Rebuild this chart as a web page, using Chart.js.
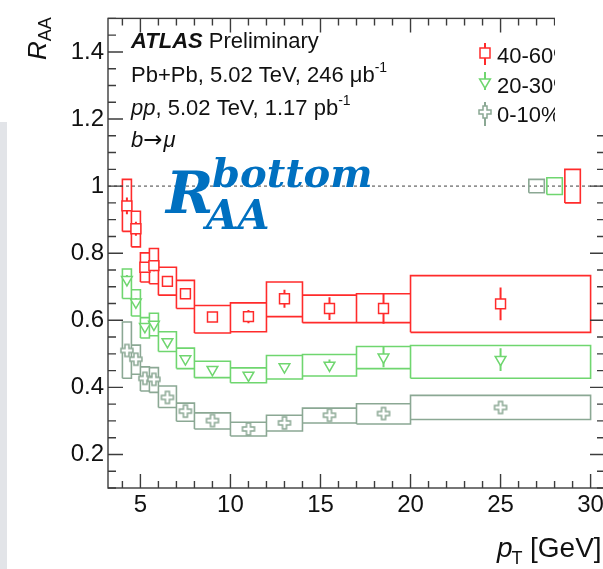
<!DOCTYPE html>
<html>
<head>
<meta charset="utf-8">
<script src="https://cdn.jsdelivr.net/npm/chart.js@4.4.1/dist/chart.umd.min.js"></script>
<style>
  html, body { margin: 0; padding: 0; overflow: hidden; background: #fff; width: 603px; height: 569px; }
  #wrap { position: relative; width: 620px; height: 569px; }
  canvas { position: absolute; left: 0; top: 0; }
</style>
</head>
<body>
<div id="wrap"><canvas id="c" width="620" height="569"></canvas></div>
<script>
// b -> mu nuclear modification factor vs muon pT, three centrality classes
const CENTRALITY = ['40-60%', '20-30%', '0-10%'];
const BIN_LO = [4.0, 4.5, 5.0, 5.5, 6.0, 7.0, 8.0, 10.0, 12.0, 14.0, 17.0, 20.0];
const BIN_HI = [4.5, 5.0, 5.5, 6.0, 7.0, 8.0, 10.0, 12.0, 14.0, 17.0, 20.0, 30.0];
const PT     = [4.25, 4.75, 5.25, 5.75, 6.5, 7.5, 9.0, 11.0, 13.0, 15.5, 18.5, 25.0];

const RAA_40_60    = [0.941, 0.873, 0.758, 0.763, 0.716, 0.679, 0.610, 0.611, 0.664, 0.635, 0.635, 0.649];
const STAT_40_60   = [0.025, 0.021, 0.015, 0.017, 0.010, 0.010, 0.008, 0.020, 0.027, 0.034, 0.045, 0.049];
const SYS_UP_40_60 = [1.020, 0.925, 0.801, 0.814, 0.758, 0.719, 0.644, 0.652, 0.714, 0.675, 0.679, 0.733];
const SYS_DN_40_60 = [0.865, 0.819, 0.714, 0.709, 0.675, 0.635, 0.562, 0.566, 0.611, 0.593, 0.593, 0.564];

const RAA_20_30    = [0.721, 0.654, 0.581, 0.588, 0.536, 0.485, 0.453, 0.436, 0.461, 0.466, 0.490, 0.483];
const STAT_20_30   = [0.014, 0.012, 0.010, 0.010, 0.008, 0.008, 0.007, 0.008, 0.012, 0.017, 0.030, 0.034];
const SYS_UP_20_30 = [0.753, 0.691, 0.608, 0.621, 0.566, 0.517, 0.478, 0.458, 0.495, 0.498, 0.522, 0.525];
const SYS_DN_20_30 = [0.665, 0.613, 0.547, 0.554, 0.507, 0.456, 0.429, 0.414, 0.425, 0.434, 0.456, 0.427];

const RAA_0_10     = [0.510, 0.484, 0.427, 0.424, 0.370, 0.329, 0.301, 0.276, 0.294, 0.317, 0.322, 0.340];
const STAT_0_10    = [0.010, 0.009, 0.008, 0.008, 0.007, 0.007, 0.006, 0.007, 0.008, 0.010, 0.013, 0.016];
const SYS_UP_0_10  = [0.595, 0.526, 0.461, 0.459, 0.404, 0.353, 0.324, 0.296, 0.317, 0.338, 0.351, 0.376];
const SYS_DN_0_10  = [0.427, 0.439, 0.389, 0.385, 0.340, 0.299, 0.276, 0.255, 0.270, 0.294, 0.291, 0.304];

// normalisation uncertainty boxes drawn at R_AA = 1 (order: 0-10%, 20-30%, 40-60%)
const NORM_X    = [27.0, 28.0, 29.0];
const NORM_UNC  = [0.020, 0.025, 0.050];
const NORM_HALF = 0.43;

const X_TICKS = [5, 10, 15, 20, 25, 30];
const X_TICK_LABELS = ['5', '10', '15', '20', '25', '30'];
const Y_TICKS = [0.2, 0.4, 0.6, 0.8, 1.0, 1.2, 1.4];
const Y_TICK_LABELS = ['0.2', '0.4', '0.6', '0.8', '1', '1.2', '1.4'];

const X_MIN = 3.2, X_MAX = 30.8, Y_MIN = 0.1, Y_MAX = 1.5;

const COL_RED = '#ff2b2b';
const COL_GREEN = '#6fd66f';
const COL_GREY = '#8ba894';
const FONT = '"Liberation Sans", Arial, Helvetica, sans-serif';

// open cross marker
function openCross(color, s) {
  const c = document.createElement('canvas');
  c.width = s + 4; c.height = s + 4;
  const g = c.getContext('2d');
  const o = 2, h = s / 2, a = s / 6;
  const cx = o + h, cy = o + h;
  g.beginPath();
  g.moveTo(cx - a, cy - h); g.lineTo(cx + a, cy - h); g.lineTo(cx + a, cy - a);
  g.lineTo(cx + h, cy - a); g.lineTo(cx + h, cy + a); g.lineTo(cx + a, cy + a);
  g.lineTo(cx + a, cy + h); g.lineTo(cx - a, cy + h); g.lineTo(cx - a, cy + a);
  g.lineTo(cx - h, cy + a); g.lineTo(cx - h, cy - a); g.lineTo(cx - a, cy - a);
  g.closePath();
  g.fillStyle = '#fff'; g.fill();
  g.strokeStyle = color; g.lineWidth = 1.5; g.stroke();
  return c;
}
const CROSS_IMG = openCross(COL_GREY, 12);

function boxes(lo, hi, dn, up) {
  const pts = [];
  for (let i = 0; i < lo.length; i++) {
    pts.push({x: lo[i], y: dn[i]}, {x: lo[i], y: up[i]}, {x: hi[i], y: up[i]},
             {x: hi[i], y: dn[i]}, {x: lo[i], y: dn[i]}, {x: null, y: null});
  }
  return pts;
}
function errBars(x, y, e) {
  const pts = [];
  for (let i = 0; i < x.length; i++) {
    pts.push({x: x[i], y: y[i] - e[i]}, {x: x[i], y: y[i] + e[i]}, {x: null, y: null});
  }
  return pts;
}
function points(x, y) { return x.map((v, i) => ({x: v, y: y[i]})); }

const SERIES = [
  {label: CENTRALITY[0], color: COL_RED,   y: RAA_40_60, stat: STAT_40_60, up: SYS_UP_40_60, dn: SYS_DN_40_60, style: 'rect',     radius: 7,   rot: 0,   norm: 2},
  {label: CENTRALITY[1], color: COL_GREEN, y: RAA_20_30, stat: STAT_20_30, up: SYS_UP_20_30, dn: SYS_DN_20_30, style: 'triangle', radius: 6.2, rot: 180, norm: 1},
  {label: CENTRALITY[2], color: COL_GREY,  y: RAA_0_10,  stat: STAT_0_10,  up: SYS_UP_0_10,  dn: SYS_DN_0_10,  style: CROSS_IMG,  radius: 6,   rot: 0,   norm: 0}
];

const datasets = [];
SERIES.forEach(s => {
  datasets.push({
    label: s.label, data: points(PT, s.y), showLine: false,
    pointStyle: s.style, rotation: s.rot, pointRadius: s.radius,
    borderColor: s.color, backgroundColor: '#ffffff', borderWidth: 1.5, order: 0
  });
  datasets.push({
    data: errBars(PT, s.y, s.stat), showLine: true, spanGaps: false, pointRadius: 0,
    borderColor: s.color, borderWidth: 2, order: 1
  });
  const n = s.norm;
  const lo = BIN_LO.concat([NORM_X[n] - NORM_HALF]);
  const hi = BIN_HI.concat([NORM_X[n] + NORM_HALF]);
  const dn = s.dn.concat([1 - NORM_UNC[n]]);
  const up = s.up.concat([1 + NORM_UNC[n]]);
  datasets.push({
    data: boxes(lo, hi, dn, up), showLine: true, spanGaps: false, pointRadius: 0,
    borderColor: s.color, borderWidth: 1.6, order: 2
  });
});
// reference line at unity
datasets.push({
  data: [{x: X_MIN, y: 1}, {x: X_MAX, y: 1}], showLine: true, pointRadius: 0,
  borderColor: '#808080', borderWidth: 1.5, borderDash: [3, 3], order: 3
});

const decor = {
  id: 'decor',
  afterDraw(chart) {
    const ctx = chart.ctx, a = chart.chartArea;
    const xs = chart.scales.x, ys = chart.scales.y;
    ctx.save();
    // frame
    ctx.strokeStyle = '#3c3c3c'; ctx.lineWidth = 1.4;
    ctx.strokeRect(a.left, a.top, a.right - a.left, a.bottom - a.top);
    // inward ticks on all four sides
    ctx.beginPath();
    for (let v = 4; v <= 30; v++) {
      const px = xs.getPixelForValue(v);
      const len = (v % 5 === 0) ? 14 : 7;
      ctx.moveTo(px, a.bottom); ctx.lineTo(px, a.bottom - len);
      ctx.moveTo(px, a.top); ctx.lineTo(px, a.top + len);
    }
    for (let k = 2; k <= 30; k++) {
      const v = k * 0.05;
      const py = ys.getPixelForValue(v);
      const len = (k % 4 === 0) ? 15 : 8;
      ctx.moveTo(a.left, py); ctx.lineTo(a.left + len, py);
      ctx.moveTo(a.right, py); ctx.lineTo(a.right - len, py);
    }
    ctx.stroke();

    // axis titles
    ctx.fillStyle = '#111';
    ctx.textBaseline = 'alphabetic';
    ctx.textAlign = 'left';
    ctx.font = 'italic 28px ' + FONT;
    ctx.fillText('p', 497, 557);
    let w = ctx.measureText('p').width;
    ctx.font = '18px ' + FONT;
    ctx.fillText('T', 497 + w - 1, 564);
    ctx.font = '28px ' + FONT;
    ctx.fillText('[GeV]', 530, 557);

    ctx.save();
    ctx.translate(46, 60);
    ctx.rotate(-Math.PI / 2);
    ctx.font = 'italic 26px ' + FONT;
    ctx.fillText('R', 0, 0);
    w = ctx.measureText('R').width;
    ctx.font = '18px ' + FONT;
    ctx.fillText('AA', w, 5);
    ctx.restore();

    // text block
    const tx = 131;
    ctx.font = 'bold italic 22px ' + FONT;
    ctx.fillText('ATLAS', tx, 48);
    w = ctx.measureText('ATLAS ').width;
    ctx.font = '22px ' + FONT;
    ctx.fillText('Preliminary', tx + w, 48);

    let s1 = 'Pb+Pb, 5.02 TeV, 246 \u03bcb';
    ctx.fillText(s1, tx, 82);
    w = ctx.measureText(s1).width;
    ctx.font = '14px ' + FONT;
    ctx.fillText('-1', tx + w, 72);

    ctx.font = 'italic 22px ' + FONT;
    ctx.fillText('pp', tx, 115);
    w = ctx.measureText('pp').width;
    ctx.font = '22px ' + FONT;
    s1 = ', 5.02 TeV, 1.17 pb';
    ctx.fillText(s1, tx + w, 115);
    w += ctx.measureText(s1).width;
    ctx.font = '14px ' + FONT;
    ctx.fillText('-1', tx + w, 105);

    ctx.font = 'italic 22px ' + FONT;
    ctx.fillText('b', tx, 147);
    w = ctx.measureText('b').width;
    ctx.font = '23px "DejaVu Sans", sans-serif';
    ctx.fillText('\u2192', tx + w, 147);
    w += ctx.measureText('\u2192').width;
    ctx.font = 'italic 22px ' + FONT;
    ctx.fillText('\u03bc', tx + w + 1, 147);

    // legend
    const lx = 485, ltx = 497;
    const rows = [
      {y: 53, top: 43, bot: 65, text: 63},
      {y: 82, top: 72, bot: 90, text: 93},
      {y: 112, top: 102, bot: 126, text: 122}
    ];
    SERIES.forEach((s, i) => {
      const r = rows[i];
      ctx.strokeStyle = s.color; ctx.lineWidth = 2;
      ctx.beginPath(); ctx.moveTo(lx, r.top); ctx.lineTo(lx, r.bot); ctx.stroke();
      ctx.lineWidth = 1.5; ctx.fillStyle = '#fff';
      if (i === 0) {
        ctx.fillRect(lx - 5, r.y - 5, 10, 10); ctx.strokeRect(lx - 5, r.y - 5, 10, 10);
      } else if (i === 1) {
        ctx.beginPath(); ctx.moveTo(lx - 5.4, r.y - 3.1); ctx.lineTo(lx + 5.4, r.y - 3.1); ctx.lineTo(lx, r.y + 6.2); ctx.closePath();
        ctx.fill(); ctx.stroke();
      } else {
        ctx.drawImage(CROSS_IMG, lx - CROSS_IMG.width / 2, r.y - CROSS_IMG.height / 2);
      }
      ctx.fillStyle = '#111';
      ctx.font = '22px ' + FONT;
      ctx.fillText(s.label, ltx, r.text);
    });

    // white mask over the top-right corner
    ctx.fillStyle = '#fff';
    ctx.fillRect(555, 0, 70, 127);
    // grey side panel
    ctx.fillStyle = '#e2e4e8';
    ctx.fillRect(0, 122, 7, 447);

    // blue heading
    ctx.fillStyle = '#0070c0';
    ctx.font = 'bold italic 57px "DejaVu Serif", serif';
    ctx.fillText('R', 166, 213);
    ctx.font = 'bold italic 40px "DejaVu Serif", serif';
    ctx.fillText('bottom', 212, 187);
    ctx.font = 'bold italic 41px "DejaVu Serif", serif';
    ctx.fillText('AA', 206, 229);
    ctx.restore();
  }
};

new Chart(document.getElementById('c'), {
  type: 'scatter',
  data: {datasets},
  options: {
    responsive: false, animation: false, devicePixelRatio: 1,
    layout: {padding: {top: 12, right: 15, left: 0, bottom: 0}},
    plugins: {legend: {display: false}, tooltip: {enabled: false}},
    scales: {
      x: {
        type: 'linear', min: X_MIN, max: X_MAX,
        grid: {display: false, drawTicks: false}, border: {display: false},
        afterBuildTicks: sc => { sc.ticks = X_TICKS.map(v => ({value: v})); },
        afterFit: sc => { sc.height = 81; },
        ticks: {
          padding: 3, color: '#111', maxRotation: 0, autoSkip: false,
          font: {family: FONT, size: 24},
          callback: v => X_TICK_LABELS[X_TICKS.indexOf(v)]
        }
      },
      y: {
        type: 'linear', min: Y_MIN, max: Y_MAX,
        grid: {display: false, drawTicks: false}, border: {display: false},
        afterBuildTicks: sc => { sc.ticks = Y_TICKS.map(v => ({value: v})); },
        afterFit: sc => { sc.width = 108; },
        ticks: {
          padding: 4, color: '#111', autoSkip: false,
          font: {family: FONT, size: 24},
          callback: v => Y_TICK_LABELS[Y_TICKS.findIndex(t => Math.abs(t - v) < 1e-6)]
        }
      }
    }
  },
  plugins: [decor]
});
</script>
</body>
</html>
